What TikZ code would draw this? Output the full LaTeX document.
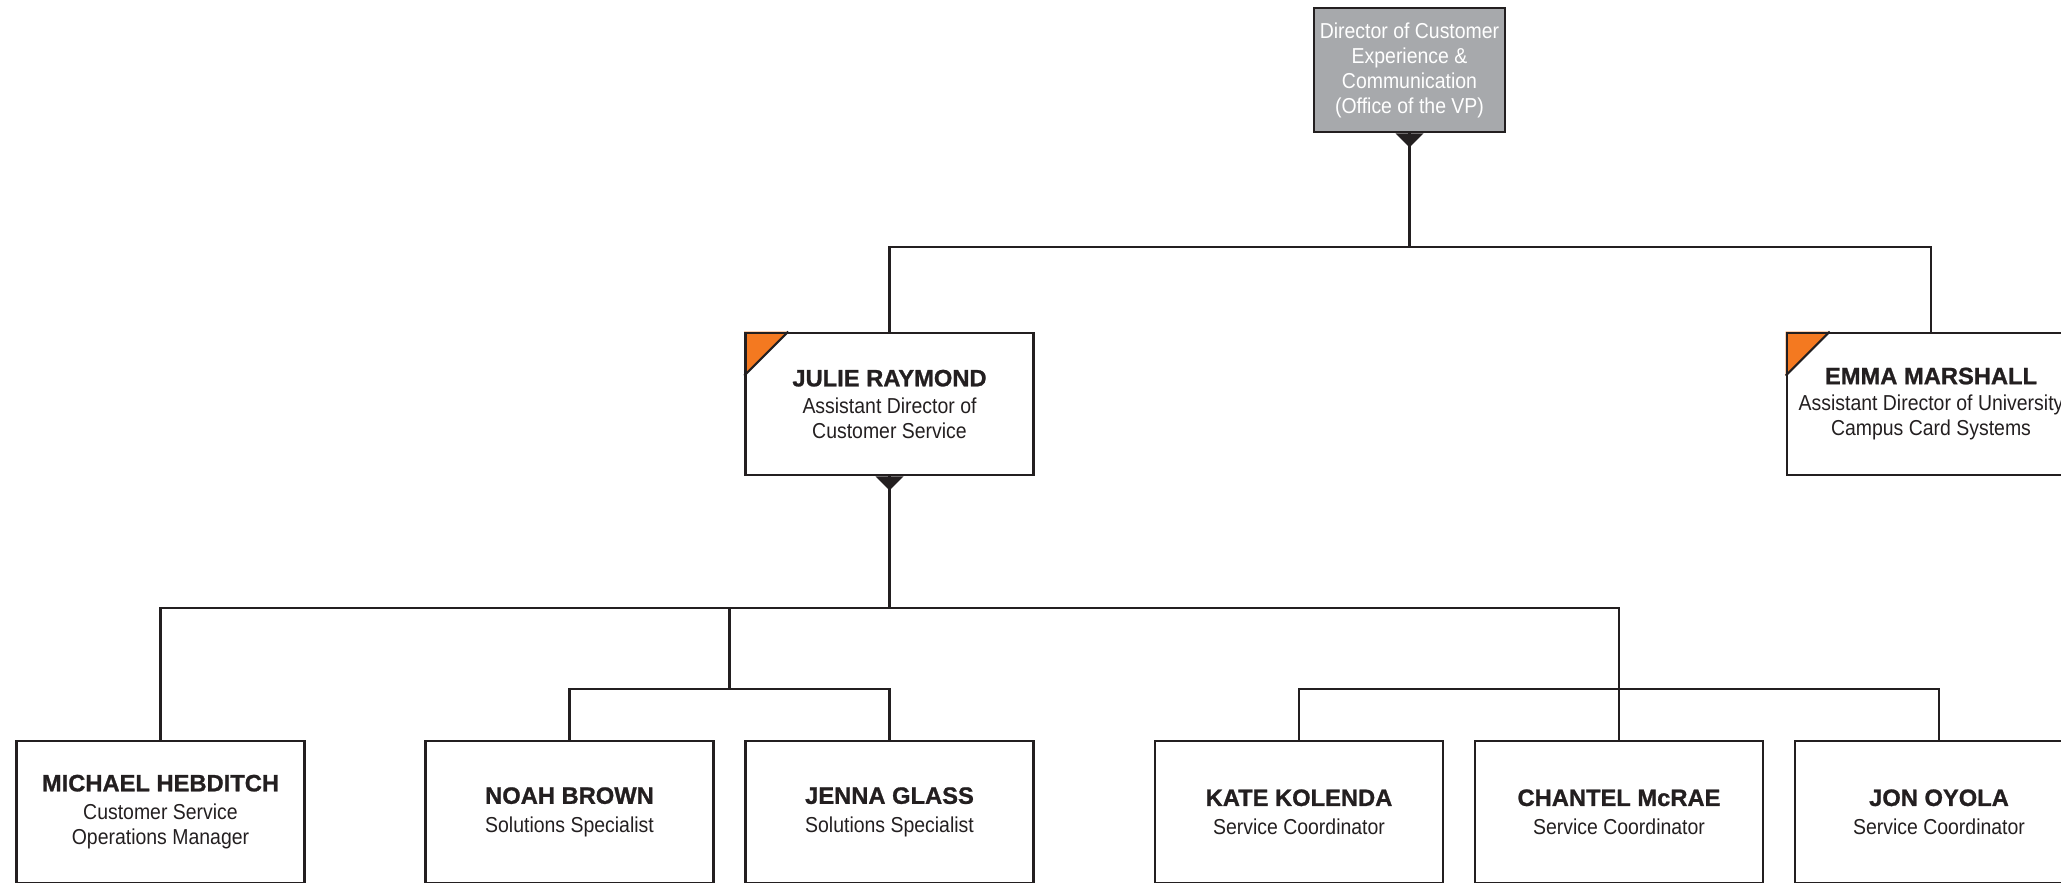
\documentclass[tikz,border=0pt]{standalone}
\usepackage{fontspec}
\setmainfont{Liberation Sans}[FakeStretch=0.9]
\newfontfamily\namefamily{Liberation Sans}[FakeBold=1]
\usetikzlibrary{backgrounds}
\definecolor{inkblack}{HTML}{231F20}
\definecolor{vpgray}{HTML}{A7A9AC}
\definecolor{markorange}{HTML}{F47920}
\newcommand{\clrline}{inkblack}
\newcommand{\clrvp}{vpgray}
\newcommand{\clrmark}{markorange}
\newcommand{\namefont}{\namefamily\fontsize{13.5}{15}\selectfont\bfseries}

\begin{document}
\begin{tikzpicture}[x=0.02cm, y=-0.02cm,
    box/.style={draw=\clrline, line width=1.5pt, minimum width=5.76cm, minimum height=2.84cm,
        align=center, text=\clrline, inner sep=1pt, font={\fontsize{12.3}{14.2}\selectfont}},
    link/.style={draw=\clrline, line width=1.2pt}]
    \useasboundingbox (0,0) rectangle (2061,882);

    \node[box, fill=\clrvp, text=white, minimum width=3.82cm, minimum height=2.48cm] (vp) at (1409.5,70)
        {Director of Customer\\Experience \&\\Communication\\(Office of the VP)};
%assistant directors
    \node[box] (julie) at (889.5,404) {{\namefont JULIE RAYMOND}\\[1pt]Assistant Director of\\Customer Service};
    \node[box] (emma) at (1931,404) {{\namefont EMMA MARSHALL}\\[1pt]Assistant Director of University\\Campus Card Systems};
%staff
    \foreach \name/\x/\who/\job in {michael/160.5/MICHAEL HEBDITCH/{Customer Service\\Operations Manager},
        noah/569.5/NOAH BROWN/Solutions Specialist, jenna/889.5/JENNA GLASS/Solutions Specialist,
        kate/1299/KATE KOLENDA/Service Coordinator, chantel/1619/CHANTEL McRAE/Service Coordinator,
        jon/1939/JON OYOLA/Service Coordinator} {
        \node[box] (\name) at (\x,812) {{\namefont \who}\\[2pt]\job};
    }

    \coordinate (bus1) at (1409.5,247);
    \coordinate (bus2) at (889.5,608);
    \coordinate (bus3) at (729.5,608);
    \coordinate (bus4) at (729.5,689);
    \coordinate (bus5) at (1619,689);

    \draw[link] (vp.south) -- (bus1);
    \draw[link] (julie.north) |- (bus1) -| (emma.north);
    \draw[link] (julie.south) -- (bus2);
    \draw[link] (michael.north) |- (bus2) -| (chantel.north);
    \draw[link] (bus3) -- (bus4);
    \draw[link] (noah.north) |- (bus4) -| (jenna.north);
    \draw[link] (kate.north) |- (bus5) -| (jon.north);

    \foreach \boss in {vp,julie} {
        \fill[\clrline] (\boss.south) ++(-14,0) -- ++(28,0) -- ++(-14,14) -- cycle;
    }
    \begin{scope}[on background layer]
        \foreach \boss in {julie,emma} {
            \fill[\clrmark] (\boss.north west) -- ++(44,0) -- ++(-44,44) -- cycle;
            \draw[link] (\boss.north west) ++(44,0) -- ++(-44,44);
        }
    \end{scope}
\end{tikzpicture}
\end{document}
